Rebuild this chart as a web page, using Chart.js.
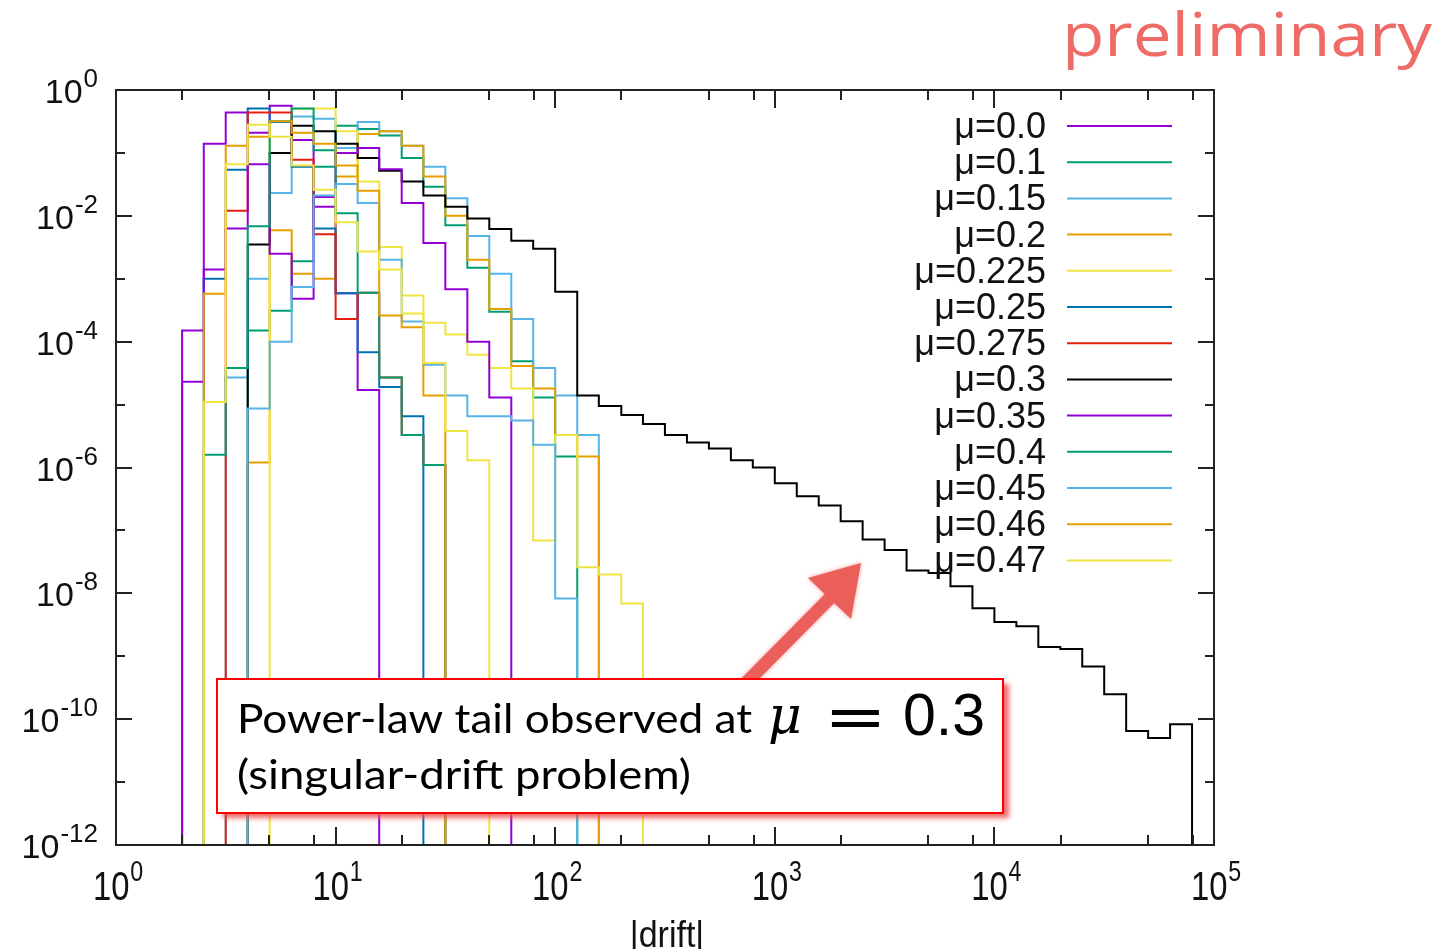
<!DOCTYPE html>
<html>
<head>
<meta charset="utf-8">
<title>drift histogram</title>
<script src="https://cdn.jsdelivr.net/npm/chart.js@4.4.0/dist/chart.umd.min.js"></script>
<style>
    html, body { margin: 0; padding: 0; background: #ffffff; }
    #wrap { position: relative; width: 1441px; height: 949px; }
</style>
</head>
<body>
<div id="wrap"><canvas id="driftChart" width="1441" height="949"></canvas></div>
<script>
// Histogram bin edges (0.1 decade wide), first edge at |drift| = 2
const binEdges = [2.00, 2.51, 3.16, 3.98, 5.01, 6.31, 7.94, 10.0, 12.6, 15.8, 20.0, 25.1, 31.6, 39.8,
    50.1, 63.1, 79.4, 100, 126, 158, 200, 251, 316, 398, 501, 631, 794, 1000, 1259, 1585, 1995,
    2512, 3162, 3981, 5012, 6310, 7943, 10000, 12589, 15849, 19953, 25119, 31623, 39811, 50119,
    63096, 79433];

// Bin contents, one entry per bin starting at binEdges[0] (null = empty leading bin)
const mu000 = [1.5e-4, 0.14, 0.44, 0.21, 0.56, 0.16, 0.014, 5.9e-4, 1.7e-5];
const mu010 = [null, null, null, 1.5e-4, 3.1e-4, 1.9e-3, 0.060, 0.27, 0.24, 0.19, 0.083, 0.029, 7.1e-3,
    1.5e-3, 3.0e-4, 4.9e-5, 1.3e-5, 1.5e-6];
const mu015 = [null, null, 2.7e-5, 1.0e-3, 0.023, 0.38, 0.35, 0.12, 0.31, 0.22, 0.13, 0.060, 0.019,
    4.8e-3, 1.2e-3, 2.3e-4, 3.8e-5, 1.4e-5, 3.3e-6];
const mu020 = [null, null, null, 1.2e-6, 5.9e-3, 1.2e-3, 1.0e-3, 0.042, 0.20, 0.22, 0.13, 0.042, 0.010,
    2.0e-3, 3.3e-4, 4.1e-5, 1.8e-5, 3.3e-6, 1.5e-6];
const mu0225 = [null, null, null, null, 0.32, 0.51, 0.51, 0.22, 0.035, 3.2e-3, 5.4e-4, 2.0e-4, 1.3e-4,
    6.2e-5, 3.8e-5, 1.8e-5, 6.9e-8, 3.3e-6, 2.6e-8, 2.0e-8, 6.9e-9];
const mu025 = [null, 1.0e-3, 0.054, 0.51, 0.31, 0.060, 6.3e-3, 5.9e-4, 6.8e-5, 1.9e-5, 6.5e-6];
const mu0275 = [null, null, 0.012, 0.44, 0.44, 0.078, 5.1e-3, 2.3e-4, 6.0e-4, 2.7e-5, 3.3e-6, 1.1e-6];
const mu030 = [null, null, null, 3.5e-3, 0.10, 0.27, 0.22, 0.14, 0.083, 0.052, 0.035, 0.021, 0.014,
    9.1e-3, 6.2e-3, 4.0e-3, 3.0e-3, 6.2e-4, 1.4e-5, 9.5e-6, 6.8e-6, 4.9e-6, 3.3e-6, 2.5e-6, 2.0e-6,
    1.3e-6, 1.0e-6, 5.6e-7, 3.5e-7, 2.5e-7, 1.4e-7, 7.2e-8, 4.9e-8, 2.3e-8, 2.1e-8, 1.3e-8, 5.8e-9,
    3.5e-9, 3.0e-9, 1.4e-9, 1.3e-9, 6.9e-10, 2.5e-10, 6.5e-11, 5.0e-11, 8.3e-11];
const mu035 = [2.3e-5, 1.4e-3, 6.3e-3, 0.066, 2.5e-3, 4.8e-4, 0.020, 0.10, 0.12, 0.055, 0.016, 3.7e-3,
    6.8e-4, 1.0e-4, 1.3e-5];
const mu040 = [null, 1.6e-6, 3.8e-5, 6.8e-3, 0.32, 0.51, 0.11, 0.011, 6.0e-4, 2.7e-5, 3.3e-6, 1.1e-6];
const mu045 = [null, null, null, 8.7e-6, 1.0e-4, 7.4e-4, 0.021, 0.032, 0.016, 2.0e-3, 2.1e-4, 4.3e-5,
    1.4e-5, 6.5e-6, 6.5e-6, 5.6e-6, 2.3e-6, 8.3e-9];
const mu046 = [null, 5.8e-4, 0.13, 0.18, 0.32, 0.21, 0.14, 0.063, 0.025, 2.6e-4, 1.7e-4, 1.4e-5];
const mu047 = [null, 1.1e-5, 0.066, 0.28, 0.18, 0.063, 0.026, 7.9e-3, 2.7e-3, 1.4e-3, 2.8e-4, 4.6e-5,
    3.8e-6, 1.3e-6];

const seriesValues = [mu000, mu010, mu015, mu020, mu0225, mu025, mu0275, mu030, mu035, mu040, mu045, mu046, mu047];
const seriesLabels = ['μ=0.0', 'μ=0.1', 'μ=0.15', 'μ=0.2', 'μ=0.225', 'μ=0.25', 'μ=0.275',
    'μ=0.3', 'μ=0.35', 'μ=0.4', 'μ=0.45', 'μ=0.46', 'μ=0.47'];
const seriesColors = ['#9400d3', '#009e73', '#56b4e9', '#e69f00', '#f0e442', '#0072b2', '#e51e10',
    '#000000', '#9400d3', '#009e73', '#56b4e9', '#e69f00', '#f0e442'];

// Axis ticks
const xMajorTicks = [1, 10, 100, 1000, 10000, 100000];
const xMajorExponents = ['0', '1', '2', '3', '4', '5'];
const xMinorTicks = [2, 5, 8, 20, 50, 80, 200, 500, 800, 2000, 5000, 8000, 20000, 50000, 80000];
const yTicks = [1, 1e-1, 1e-2, 1e-3, 1e-4, 1e-5, 1e-6, 1e-7, 1e-8, 1e-9, 1e-10, 1e-11, 1e-12];
const yLabelTicks = [1, 1e-2, 1e-4, 1e-6, 1e-8, 1e-10, 1e-12];
const yLabelExponents = ['0', '-2', '-4', '-6', '-8', '-10', '-12'];

// below the y range, so empty bins fall off the bottom of the frame
const FLOOR = 1e-14;

// Turn bin contents into a closed step outline (rises from the floor, drops back to it)
function histogramOutline(values) {
    const first = values.findIndex(v => v !== null);
    const points = [{ x: binEdges[first], y: FLOOR }];
    for (let i = first; i < values.length; i++) {
        points.push({ x: binEdges[i], y: values[i] });
    }
    points.push({ x: binEdges[values.length], y: FLOOR });
    return points;
}

const datasets = seriesValues.map((values, i) => ({
    label: seriesLabels[i],
    data: histogramOutline(values),
    borderColor: seriesColors[i],
    borderWidth: 2,
    // hold each bin value until the next edge
    stepped: 'before',
    pointRadius: 0,
    fill: false,
    // later series are painted over earlier ones
    order: seriesValues.length - i
}));

function drawPowerLabel(ctx, base, exp, x, y, align, baseFont, supFont, squeeze, rise) {
    ctx.save();
    ctx.font = baseFont;
    const wb = ctx.measureText(base).width;
    ctx.font = supFont;
    const ws = ctx.measureText(exp).width;
    const total = (wb + ws + 1) * squeeze;
    const left = align === 'right' ? x - total : x - total / 2;
    ctx.translate(left, y);
    ctx.scale(squeeze, 1);
    ctx.fillStyle = '#111';
    ctx.textAlign = 'left';
    ctx.textBaseline = 'alphabetic';
    ctx.font = baseFont;
    ctx.fillText(base, 0, 0);
    ctx.font = supFont;
    ctx.fillText(exp, wb + 1, -rise);
    ctx.restore();
}

const gnuplotFrame = {
    id: 'gnuplotFrame',
    beforeDraw(chart) {
        const ctx = chart.ctx;
        ctx.save();
        ctx.fillStyle = '#ffffff';
        ctx.fillRect(0, 0, chart.width, chart.height);
        ctx.restore();
    },
    afterDatasetsDraw(chart) {
        const ctx = chart.ctx;
        const area = chart.chartArea;
        const xs = chart.scales.x;
        const ys = chart.scales.y;
        ctx.save();
        ctx.strokeStyle = '#222';
        ctx.lineWidth = 2;
        ctx.strokeRect(area.left, area.top, area.right - area.left, area.bottom - area.top);

        ctx.beginPath();
        // x ticks, bottom and top, pointing inwards
        xMajorTicks.forEach(v => {
            const px = Math.round(xs.getPixelForValue(v));
            ctx.moveTo(px, area.bottom); ctx.lineTo(px, area.bottom - 18);
            ctx.moveTo(px, area.top); ctx.lineTo(px, area.top + 18);
        });
        xMinorTicks.forEach(v => {
            const px = Math.round(xs.getPixelForValue(v));
            ctx.moveTo(px, area.bottom); ctx.lineTo(px, area.bottom - 10);
            ctx.moveTo(px, area.top); ctx.lineTo(px, area.top + 10);
        });
        // y ticks, left and right
        yTicks.forEach(v => {
            const py = Math.round(ys.getPixelForValue(v));
            const len = yLabelTicks.includes(v) ? 16 : 9;
            ctx.moveTo(area.left, py); ctx.lineTo(area.left + len, py);
            ctx.moveTo(area.right, py); ctx.lineTo(area.right - len, py);
        });
        ctx.stroke();
        ctx.restore();

        // tick labels
        yLabelTicks.forEach((v, i) => {
            const py = ys.getPixelForValue(v);
            drawPowerLabel(ctx, '10', yLabelExponents[i], 98, py + 13, 'right',
                '34px "Liberation Sans"', '26px "Liberation Sans"', 1, 16);
        });
        xMajorTicks.forEach((v, i) => {
            const px = xs.getPixelForValue(v);
            drawPowerLabel(ctx, '10', xMajorExponents[i], px + 2, area.bottom + 55, 'center',
                '41px "Liberation Sans"', '29px "Liberation Sans"', 0.8, 19);
        });

        // axis title
        ctx.save();
        ctx.fillStyle = '#111';
        ctx.font = '37px "Liberation Sans"';
        ctx.textAlign = 'center';
        ctx.textBaseline = 'alphabetic';
        ctx.translate((area.left + area.right) / 2 + 2, 947);
        ctx.scale(0.92, 1);
        ctx.fillText('|drift|', 0, 0);
        ctx.restore();

        // key, text right-aligned with a line sample to its right
        ctx.save();
        chart.data.datasets.forEach((ds, i) => {
            const y = 126 + i * 36.2;
            ctx.fillStyle = '#111';
            ctx.font = '36px "Liberation Sans"';
            ctx.textAlign = 'right';
            ctx.textBaseline = 'middle';
            ctx.fillText(ds.label, 1046, y + 2);
            ctx.strokeStyle = ds.borderColor;
            ctx.lineWidth = 2;
            ctx.beginPath();
            ctx.moveTo(1067, y);
            ctx.lineTo(1172, y);
            ctx.stroke();
        });
        ctx.restore();
    },
    afterDraw(chart) {
        const ctx = chart.ctx;

        // stamp in the top right corner
        ctx.save();
        ctx.fillStyle = '#ee6b67';
        ctx.font = '500 60px "Open Sans"';
        ctx.textBaseline = 'alphabetic';
        const tw = ctx.measureText('preliminary').width;
        ctx.translate(1062, 56);
        ctx.scale(370 / tw, 1);
        ctx.fillText('preliminary', 0, 0);
        ctx.restore();

        // arrow pointing at the tail
        ctx.save();
        ctx.strokeStyle = '#eb5f5a';
        ctx.fillStyle = '#eb5f5a';
        ctx.shadowColor = 'rgba(235,95,90,0.6)';
        ctx.shadowBlur = 4;
        ctx.lineWidth = 13;
        ctx.lineCap = 'round';
        ctx.beginPath();
        ctx.moveTo(745, 684);
        ctx.lineTo(832, 596);
        ctx.stroke();
        ctx.beginPath();
        ctx.moveTo(861, 563);
        ctx.lineTo(808, 578);
        ctx.lineTo(851, 619);
        ctx.closePath();
        ctx.fill();
        ctx.restore();

        // note box with a soft red shadow
        ctx.save();
        ctx.shadowColor = 'rgba(235,80,80,0.85)';
        ctx.shadowBlur = 5;
        ctx.shadowOffsetX = 6;
        ctx.shadowOffsetY = 5;
        ctx.fillStyle = '#ffffff';
        ctx.fillRect(217, 679, 786, 134);
        ctx.restore();
        ctx.save();
        ctx.strokeStyle = '#ff0000';
        ctx.lineWidth = 2;
        ctx.strokeRect(217, 679, 786, 134);

        ctx.fillStyle = '#000';
        ctx.textBaseline = 'alphabetic';
        ctx.font = '40px Lato';
        const w1 = ctx.measureText('Power-law tail observed at').width;
        ctx.save();
        ctx.translate(237, 733);
        ctx.scale(515 / w1, 1);
        ctx.fillText('Power-law tail observed at', 0, 0);
        ctx.restore();
        const w2 = ctx.measureText('(singular-drift problem)').width;
        ctx.save();
        ctx.translate(237, 789);
        ctx.scale(454 / w2, 1);
        ctx.fillText('(singular-drift problem)', 0, 0);
        ctx.restore();

        ctx.font = 'italic 52px "DejaVu Serif"';
        ctx.fillText('μ', 768, 733);
        ctx.save();
        ctx.font = '60px "DejaVu Sans"';
        ctx.translate(824, 737);
        ctx.scale(1.25, 1);
        ctx.fillText('=', 0, 0);
        ctx.restore();
        ctx.font = '59px "Liberation Sans"';
        ctx.fillText('0.3', 903, 735);
        ctx.restore();
    }
};

new Chart(document.getElementById('driftChart'), {
    type: 'line',
    data: { datasets: datasets },
    options: {
        responsive: false,
        animation: false,
        layout: { padding: { left: 116, top: 90, right: 227, bottom: 104 } },
        scales: {
            x: { type: 'logarithmic', min: 1, max: 100000, display: false },
            y: { type: 'logarithmic', min: 1e-12, max: 1, display: false }
        },
        plugins: {
            legend: { display: false },
            tooltip: { enabled: false }
        },
        elements: { line: { tension: 0 } }
    },
    plugins: [gnuplotFrame]
});
</script>
</body>
</html>
